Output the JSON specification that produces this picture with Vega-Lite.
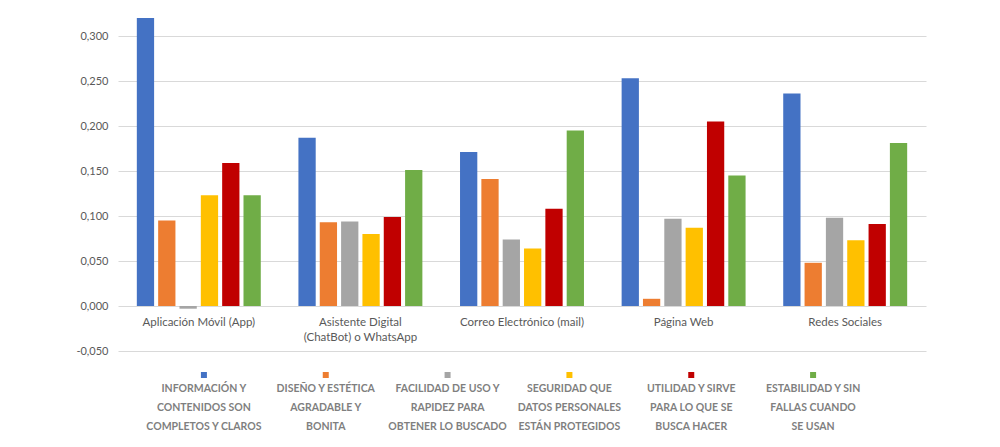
{
  "$schema": "https://vega.github.io/schema/vega-lite/v6.json",
  "background": "white",
  "padding": {"left": 75, "top": 0, "right": 5, "bottom": 5},
  "config": {
    "view": {"stroke": null},
    "font": "Lato",
    "axis": {"labelColor": "#595959", "gridColor": "#d9d9d9", "gridWidth": 1}
  },
  "datasets": {
    "valores": [
      {"canal": "Aplicación Móvil (App)", "criterio": "Información y contenidos son completos y claros", "valor": 0.320},
      {"canal": "Aplicación Móvil (App)", "criterio": "Diseño y estética agradable y bonita", "valor": 0.095},
      {"canal": "Aplicación Móvil (App)", "criterio": "Facilidad de uso y rapidez para obtener lo buscado", "valor": -0.003},
      {"canal": "Aplicación Móvil (App)", "criterio": "Seguridad que datos personales están protegidos", "valor": 0.123},
      {"canal": "Aplicación Móvil (App)", "criterio": "Utilidad y sirve para lo que se busca hacer", "valor": 0.159},
      {"canal": "Aplicación Móvil (App)", "criterio": "Estabilidad y sin fallas cuando se usan", "valor": 0.123},
      {"canal": "Asistente Digital (ChatBot) o WhatsApp", "criterio": "Información y contenidos son completos y claros", "valor": 0.187},
      {"canal": "Asistente Digital (ChatBot) o WhatsApp", "criterio": "Diseño y estética agradable y bonita", "valor": 0.093},
      {"canal": "Asistente Digital (ChatBot) o WhatsApp", "criterio": "Facilidad de uso y rapidez para obtener lo buscado", "valor": 0.094},
      {"canal": "Asistente Digital (ChatBot) o WhatsApp", "criterio": "Seguridad que datos personales están protegidos", "valor": 0.080},
      {"canal": "Asistente Digital (ChatBot) o WhatsApp", "criterio": "Utilidad y sirve para lo que se busca hacer", "valor": 0.099},
      {"canal": "Asistente Digital (ChatBot) o WhatsApp", "criterio": "Estabilidad y sin fallas cuando se usan", "valor": 0.151},
      {"canal": "Correo Electrónico (mail)", "criterio": "Información y contenidos son completos y claros", "valor": 0.171},
      {"canal": "Correo Electrónico (mail)", "criterio": "Diseño y estética agradable y bonita", "valor": 0.141},
      {"canal": "Correo Electrónico (mail)", "criterio": "Facilidad de uso y rapidez para obtener lo buscado", "valor": 0.074},
      {"canal": "Correo Electrónico (mail)", "criterio": "Seguridad que datos personales están protegidos", "valor": 0.064},
      {"canal": "Correo Electrónico (mail)", "criterio": "Utilidad y sirve para lo que se busca hacer", "valor": 0.108},
      {"canal": "Correo Electrónico (mail)", "criterio": "Estabilidad y sin fallas cuando se usan", "valor": 0.195},
      {"canal": "Página Web", "criterio": "Información y contenidos son completos y claros", "valor": 0.253},
      {"canal": "Página Web", "criterio": "Diseño y estética agradable y bonita", "valor": 0.008},
      {"canal": "Página Web", "criterio": "Facilidad de uso y rapidez para obtener lo buscado", "valor": 0.097},
      {"canal": "Página Web", "criterio": "Seguridad que datos personales están protegidos", "valor": 0.087},
      {"canal": "Página Web", "criterio": "Utilidad y sirve para lo que se busca hacer", "valor": 0.205},
      {"canal": "Página Web", "criterio": "Estabilidad y sin fallas cuando se usan", "valor": 0.145},
      {"canal": "Redes Sociales", "criterio": "Información y contenidos son completos y claros", "valor": 0.236},
      {"canal": "Redes Sociales", "criterio": "Diseño y estética agradable y bonita", "valor": 0.048},
      {"canal": "Redes Sociales", "criterio": "Facilidad de uso y rapidez para obtener lo buscado", "valor": 0.098},
      {"canal": "Redes Sociales", "criterio": "Seguridad que datos personales están protegidos", "valor": 0.073},
      {"canal": "Redes Sociales", "criterio": "Utilidad y sirve para lo que se busca hacer", "valor": 0.091},
      {"canal": "Redes Sociales", "criterio": "Estabilidad y sin fallas cuando se usan", "valor": 0.181}
    ],
    "series": [
      {"criterio": "Información y contenidos son completos y claros", "etiqueta": "INFORMACIÓN Y\nCONTENIDOS SON\nCOMPLETOS Y CLAROS"},
      {"criterio": "Diseño y estética agradable y bonita", "etiqueta": "DISEÑO Y ESTÉTICA\nAGRADABLE Y\nBONITA"},
      {"criterio": "Facilidad de uso y rapidez para obtener lo buscado", "etiqueta": "FACILIDAD DE USO Y\nRAPIDEZ PARA\nOBTENER LO BUSCADO"},
      {"criterio": "Seguridad que datos personales están protegidos", "etiqueta": "SEGURIDAD QUE\nDATOS PERSONALES\nESTÁN PROTEGIDOS"},
      {"criterio": "Utilidad y sirve para lo que se busca hacer", "etiqueta": "UTILIDAD Y SIRVE\nPARA LO QUE SE\nBUSCA HACER"},
      {"criterio": "Estabilidad y sin fallas cuando se usan", "etiqueta": "ESTABILIDAD Y SIN\nFALLAS CUANDO\nSE USAN"}
    ]
  },
  "spacing": 9,
  "resolve": {"scale": {"x": "independent", "color": "independent"}},
  "vconcat": [
    {
      "width": 808,
      "height": 351,
      "data": {"name": "valores"},
      "mark": {"type": "bar"},
      "encoding": {
        "x": {
          "field": "canal",
          "type": "nominal",
          "sort": null,
          "scale": {"paddingInner": 0.233, "paddingOuter": 0.1165},
          "axis": {
            "title": null,
            "orient": "bottom",
            "offset": -45,
            "domain": false,
            "ticks": false,
            "labelAngle": 0,
            "labelPadding": 10,
            "labelFontSize": 11.5,
            "labelLineHeight": 15,
            "labelLimit": 250,
            "labelExpr": "datum.value == 'Asistente Digital (ChatBot) o WhatsApp' ? ['Asistente Digital', '(ChatBot) o WhatsApp'] : datum.value"
          }
        },
        "xOffset": {"field": "criterio", "sort": null, "scale": {"paddingInner": 0.19}},
        "y": {
          "field": "valor",
          "type": "quantitative",
          "scale": {"domain": [-0.05, 0.34], "nice": false, "zero": false},
          "axis": {
            "title": null,
            "domain": false,
            "ticks": false,
            "labelPadding": 10,
            "labelFontSize": 11,
            "values": [-0.05, 0, 0.05, 0.1, 0.15, 0.2, 0.25, 0.3],
            "labelExpr": "replace(replace(format(datum.value, '.3f'), '.', ','), '\u2212', '-')"
          }
        },
        "color": {
          "field": "criterio",
          "sort": null,
          "scale": {
            "domain": ["Información y contenidos son completos y claros", "Diseño y estética agradable y bonita", "Facilidad de uso y rapidez para obtener lo buscado", "Seguridad que datos personales están protegidos", "Utilidad y sirve para lo que se busca hacer", "Estabilidad y sin fallas cuando se usan"],
            "range": ["#4472C4", "#ED7D31", "#A5A5A5", "#FFC000", "#C00000", "#70AD47"]
          },
          "legend": null
        }
      }
    },
    {
      "width": 808,
      "height": 20,
      "data": {"name": "series"},
      "encoding": {
        "x": {
          "field": "criterio",
          "type": "nominal",
          "sort": null,
          "axis": null,
          "scale": {"range": [25, 756], "paddingInner": 0, "paddingOuter": 0}
        }
      },
      "layer": [
        {
          "mark": {"type": "square", "size": 36, "opacity": 1, "filled": true},
          "encoding": {
            "color": {
              "field": "criterio",
              "sort": null,
              "scale": {
                "domain": ["Información y contenidos son completos y claros", "Diseño y estética agradable y bonita", "Facilidad de uso y rapidez para obtener lo buscado", "Seguridad que datos personales están protegidos", "Utilidad y sirve para lo que se busca hacer", "Estabilidad y sin fallas cuando se usan"],
                "range": ["#4472C4", "#ED7D31", "#A5A5A5", "#FFC000", "#C00000", "#70AD47"]
              },
              "legend": null
            }
          }
        },
        {
          "mark": {"type": "text", "baseline": "top", "dy": 9, "lineBreak": "\n", "lineHeight": 19, "fontSize": 10.5, "fontWeight": "bold", "color": "#7f7f7f"},
          "encoding": {"text": {"field": "etiqueta"}}
        }
      ]
    }
  ]
}
